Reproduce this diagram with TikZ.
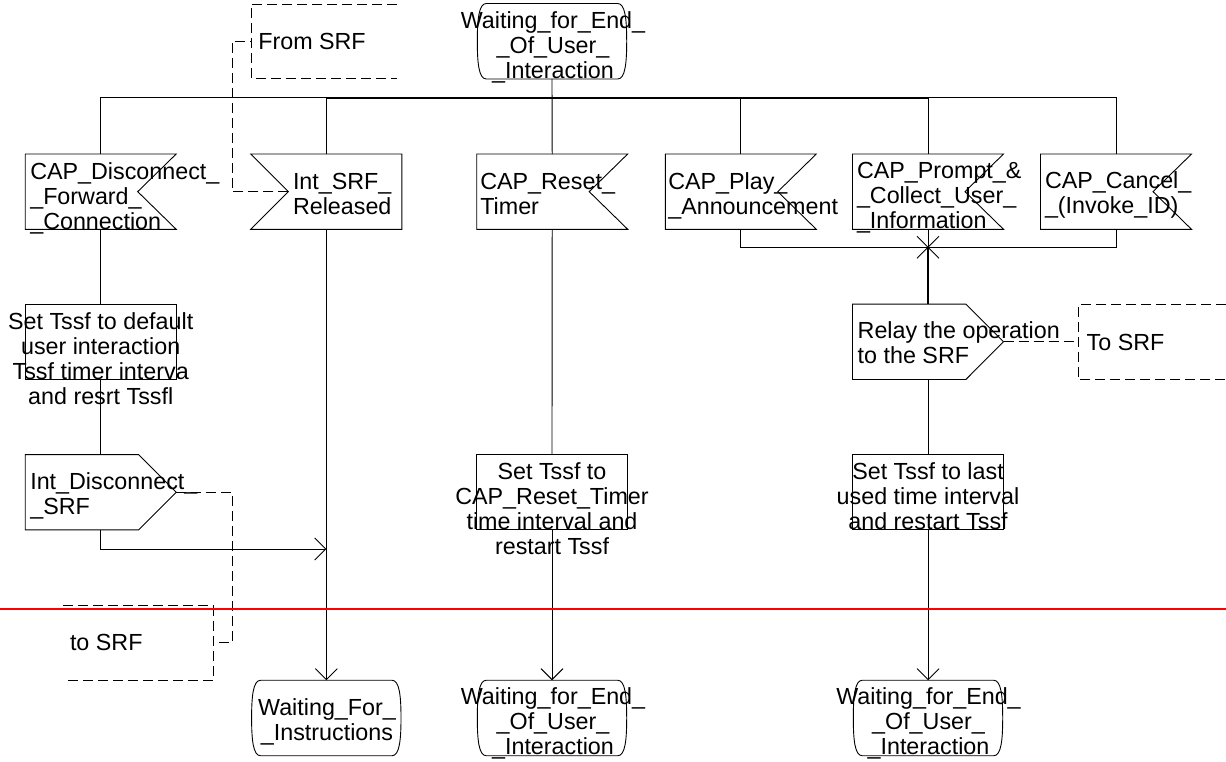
\documentclass[tikz,border=0pt]{standalone}
\usepackage{fontspec}
\setmainfont{Liberation Sans}
\usetikzlibrary{arrows.meta}
\newcommand{\sdlfont}{\fontsize{23.3}{25}\selectfont}
% SDL symbol outlines drawn around invisible frame nodes
\newcommand{\sdlinR}[1]{\draw[ln] (#1.north west) -- (#1.north east) -- ([xshift=-38.5pt]#1.east) -- (#1.south east) -- (#1.south west) -- cycle;}
\newcommand{\sdlinL}[1]{\draw[ln] (#1.north west) -- (#1.north east) -- (#1.south east) -- (#1.south west) -- ([xshift=37.5pt]#1.west) -- cycle;}
\newcommand{\sdloutR}[1]{\draw[ln] (#1.north west) -- ([xshift=-37.6pt]#1.north east) -- (#1.east) -- ([xshift=-37.6pt]#1.south east) -- (#1.south west) -- cycle;}
\newcommand{\sdltask}[1]{\draw[ln] (#1.north west) rectangle (#1.south east);}
\newcommand{\sdlstate}[1]{\draw[ln]
  ([xshift=9pt]#1.north west) -- ([xshift=-9pt]#1.north east)
  .. controls ([xshift=-1.5pt]#1.north east) and ([yshift=-16pt]#1.north east) .. (#1.east)
  .. controls ([yshift=16pt]#1.south east) and ([xshift=-1.5pt]#1.south east) .. ([xshift=-9pt]#1.south east)
  -- ([xshift=9pt]#1.south west)
  .. controls ([xshift=1.5pt]#1.south west) and ([yshift=16pt]#1.south west) .. (#1.west)
  .. controls ([yshift=-16pt]#1.north west) and ([xshift=1.5pt]#1.north west) .. ([xshift=9pt]#1.north west) -- cycle;}
\begin{document}
\begin{tikzpicture}[x=1pt,y=-1pt,
  ln/.style={line width=0.9pt,line join=miter},
  heavy/.style={line width=1.6pt},
  cmt/.style={line width=0.8pt,dash pattern=on 10pt off 5pt},
  arr/.style={ln,-{Straight Barb[length=11pt,width=22pt,line width=0.9pt]}},
  frame/.style={draw=none,inner sep=0pt,outer sep=0pt,minimum width=151pt,minimum height=75.3pt},
  stframe/.style={frame,minimum width=149.4pt,minimum height=75.5pt},
  lbl/.style={inner sep=0pt,outer sep=0pt,font=\sdlfont,align=left},
  clbl/.style={inner sep=0pt,outer sep=0pt,font=\sdlfont,align=center}
]
\useasboundingbox (0,0) rectangle (1226,761);

% symbol frames
\node[stframe] (st0) at (552,41.25) {};
\node[frame] (disc) at (100.7,191.65) {};
\node[frame] (isrf) at (326.3,191.65) {};
\node[frame] (reset) at (552.2,191.65) {};
\node[frame] (play) at (740.8,191.65) {};
\node[frame] (prompt) at (928,191.65) {};
\node[frame] (cancel) at (1116,191.65) {};
\node[frame] (task1) at (100.7,341.8) {};
\node[frame] (relay) at (928,341.8) {};
\node[frame] (idisc) at (100.7,492.2) {};
\node[frame] (task2) at (552,492.2) {};
\node[frame] (task3) at (928,492.2) {};
\node[stframe] (st1) at (326.3,718) {};
\node[stframe] (st2) at (552,718) {};
\node[stframe] (st3) at (928,718) {};

% comment brackets
\node[frame,minimum width=146pt,minimum height=74pt] (cfrom) at (324,41) {};
\node[frame,minimum width=150pt,minimum height=74.3pt] (cto) at (138.3,642.85) {};
\node[frame,minimum width=147.7pt,minimum height=75.2pt] (ctor) at (1152.15,341.8) {};

% outlines
\sdlstate{st0}
\sdlinR{disc}
\sdlinL{isrf}
\sdlinR{reset}
\sdlinR{play}
\sdlinR{prompt}
\sdlinR{cancel}
\sdltask{task1}
\sdloutR{relay}
\sdloutR{idisc}
\sdltask{task2}
\sdltask{task3}
\sdlstate{st1}
\sdlstate{st2}
\sdlstate{st3}

\draw[cmt] (cfrom.north east) -- (cfrom.north west) -- (cfrom.south west) -- (cfrom.south east);
\draw[cmt] (cto.north west) -- (cto.north east) -- (cto.south east) -- (cto.south west);
\draw[cmt] (ctor.north east) -- (ctor.north west) -- (ctor.south west) -- (ctor.south east);

% upper distribution bus
\coordinate (busE) at (1116,97.7);
\draw[ln] (disc.north) |- (busE) -- (cancel.north);
\draw[ln] (isrf.north) -- (isrf.north |- busE);
\draw[ln] (st0.south) -- (reset.north);
\draw[ln] (play.north) -- (play.north |- busE);
\draw[ln] (prompt.north) -- (prompt.north |- busE);
\draw[heavy] (isrf.north |- busE) -- (prompt.north |- busE);

% merge of the user interaction operations
\coordinate (jn) at (928,247.3);
\draw[ln] (play.south) |- (jn);
\draw[ln] (cancel.south) |- (jn);
\draw[ln] (prompt.south) -- (jn);
\draw[heavy] (jn) -- (relay.north);
\draw[ln] ([shift={(-11,-11)}]jn) -- ([shift={(11,11)}]jn);
\draw[ln] ([shift={(-11,11)}]jn) -- ([shift={(11,-11)}]jn);

% flow lines
\draw[ln] (disc.south) -- (task1.north);
\draw[ln] (task1.south) -- (idisc.north);
\coordinate (mrg) at (326.3,549);
\draw[arr] (idisc.south) |- (mrg);
\draw[arr] (isrf.south) -- (st1.north);
\draw[ln] (reset.south) -- (task2.north);
\draw[arr] (task2.south) -- (st2.north);
\draw[ln] (relay.south) -- (task3.north);
\draw[arr] (task3.south) -- (st3.north);

% comment connectors
\coordinate (isrfin) at ([xshift=37.5pt]isrf.west);
\draw[cmt] (isrfin) -- ++(-56.3,0) |- (cfrom.west);
\draw[cmt] (idisc.east) -- ++(56,0) |- (cto.east);
\draw[cmt] (relay.east) -- (ctor.west);

% texts
\node[clbl,anchor=north] (tst0) at (553,11.3) {Waiting\_for\_End\_\\\_Of\_User\_\\\_Interaction};
\node[lbl,anchor=north west] (tdisc) at (30.3,163) {CAP\_Disconnect\_\\\_Forward\_\\\_Connection};
\node[lbl,anchor=north west] (tisrf) at (293,173) {Int\_SRF\_\\Released};
\node[lbl,anchor=north west] (treset) at (480.3,173) {CAP\_Reset\_\\Timer};
\node[lbl,anchor=north west] (tplay) at (668.3,173) {CAP\_Play\_\\\_Announcement};
\node[lbl,anchor=north west] (tprompt) at (857,162) {CAP\_Prompt\_\&\\\_Collect\_User\_\\\_Information};
\node[lbl,anchor=north west] (tcancel) at (1045,171.3) {CAP\_Cancel\_\\\_(Invoke\_ID)};
\node[clbl,anchor=north] (ttask1) at (100.7,312.5) {Set Tssf to default\\user interaction\\Tssf timer interva\\and resrt Tssfl};
\node[lbl,anchor=north west] (trelay) at (857.7,322) {Relay the operation\\to the SRF};
\node[lbl,anchor=north west] (tidisc) at (30.3,473) {Int\_Disconnect\_\\\_SRF};
\node[clbl,anchor=north] (ttask2) at (552,463) {Set Tssf to\\CAP\_Reset\_Timer\\time interval and\\restart Tssf};
\node[clbl,anchor=north] (ttask3) at (928,463) {Set Tssf to last\\used time interval\\and restart Tssf};
\node[clbl,anchor=north] (tst1) at (327,699) {Waiting\_For\_\\\_Instructions};
\node[clbl,anchor=north] (tst2) at (553,688) {Waiting\_for\_End\_\\\_Of\_User\_\\\_Interaction};
\node[clbl,anchor=north] (tst3) at (928.5,688) {Waiting\_for\_End\_\\\_Of\_User\_\\\_Interaction};
\node[lbl,anchor=base west] (tfrom) at (258.3,49.3) {From SRF};
\node[lbl,anchor=base west] (ttor) at (1086.7,350) {To SRF};
\node[lbl,anchor=base west] (tto) at (70,650) {to SRF};

% red rule across the page
\coordinate (redW) at (0,608.5);
\coordinate (redE) at (1226,608.5);
\draw[red,line width=2pt] (redW) -- (redE);
\end{tikzpicture}
\end{document}
